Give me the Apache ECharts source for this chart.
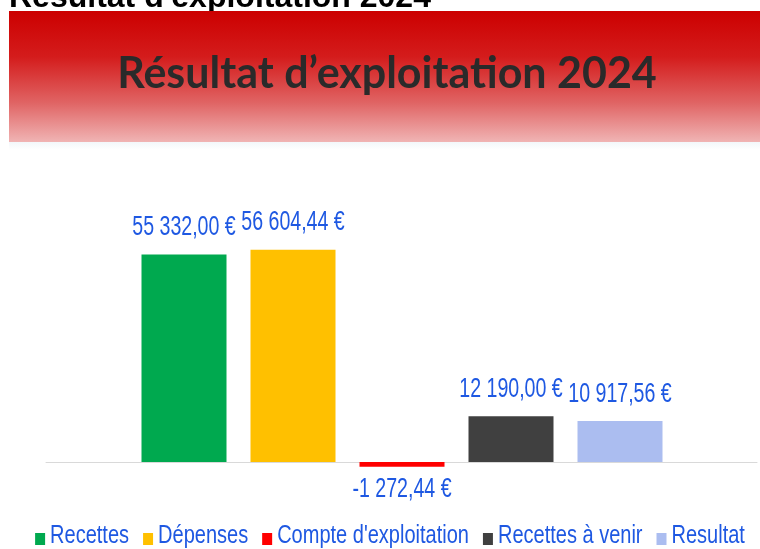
<!DOCTYPE html>
<html>
<head>
<meta charset="utf-8">
<script src="https://cdn.jsdelivr.net/npm/echarts@6/dist/echarts.min.js"></script>
<style>
html,body{margin:0;padding:0;background:#fff;}
#chart{width:760px;height:549px;}
</style>
</head>
<body>
<div id="chart"></div>
<script>
var pageTitle = "Résultat d'exploitation 2024";
var bannerTitle = "Résultat d’exploitation 2024";
var seriesNames = ['Recettes', 'Dépenses', "Compte d'exploitation", 'Recettes à venir', 'Resultat'];
var seriesValues = [55332.00, 56604.44, -1272.44, 12190.00, 10917.56];
var seriesColors = ['#00a94f', '#ffc000', '#ff0000', '#404040', '#abbdf0'];

function fmt(v) {
  var neg = v < 0;
  var s = Math.abs(v).toFixed(2).split('.');
  var ip = s[0].replace(/\B(?=(\d{3})+(?!\d))/g, ' ');
  return (neg ? '-' : '') + ip + ',' + s[1] + ' €';
}

var blue = '#1e58e2';
var labelFont = '28px "Liberation Sans", Arial, sans-serif';
var legendFont = '26.5px "Liberation Sans", Arial, sans-serif';
var squeeze = 0.7;
var legendSqueeze = 0.755;

// bar series: one per legend entry, each in its own category slot
var series = seriesNames.map(function (name, i) {
  return {
    name: name,
    type: 'bar',
    xAxisIndex: 0,
    yAxisIndex: 0,
    data: seriesNames.map(function (n, j) { return j === i ? seriesValues[i] : '-'; }),
    barWidth: 85,
    barGap: '-100%',
    itemStyle: { color: seriesColors[i] }
  };
});

// value labels (narrow text) anchored to bar ends through the axes
series.push({
  type: 'custom',
  xAxisIndex: 0,
  yAxisIndex: 0,
  silent: true,
  z: 5,
  data: seriesValues.map(function (v, i) { return [i, v]; }),
  renderItem: function (params, api) {
    var v = api.value(1);
    var pt = api.coord([api.value(0), v]);
    return {
      type: 'text',
      x: pt[0],
      y: v < 0 ? pt[1] + 23 : pt[1] - 27,
      scaleX: squeeze,
      style: {
        text: fmt(v),
        font: labelFont,
        fill: blue,
        textAlign: 'center',
        textVerticalAlign: 'middle'
      }
    };
  }
});

// legend drawn as narrow text
var ctx = document.createElement('canvas').getContext('2d');
ctx.font = legendFont;
var iconW = 10, iconH = 12, iconGap = 5, itemGap = 14;
var widths = seriesNames.map(function (n) { return ctx.measureText(n).width * legendSqueeze; });
var total = 0;
widths.forEach(function (w, i) { total += iconW + iconGap + w + (i < widths.length - 1 ? itemGap : 0); });
var lx = 390 - total / 2;
var legendEls = [];
seriesNames.forEach(function (n, i) {
  legendEls.push({ type: 'rect', shape: { x: lx, y: 533, width: iconW, height: iconH }, style: { fill: seriesColors[i] } });
  lx += iconW + iconGap;
  legendEls.push({ type: 'text', x: lx, y: 536, scaleX: legendSqueeze,
    style: { text: n, font: legendFont, fill: blue, textAlign: 'left', textVerticalAlign: 'middle' } });
  lx += widths[i] + itemGap;
});

var chart = echarts.init(document.getElementById('chart'), null, { renderer: 'canvas' });
chart.setOption({
  animation: false,
  backgroundColor: '#ffffff',
  graphic: [
    {
      type: 'text', z: 1,
      style: { text: pageTitle, x: 9, y: -2, textAlign: 'left', textVerticalAlign: 'middle',
        font: 'bold 32px "Liberation Sans", Arial, sans-serif', fill: '#000' }
    },
    {
      type: 'rect', z: 2,
      shape: { x: 9, y: 11, width: 751, height: 131 },
      style: {
        fill: new echarts.graphic.LinearGradient(0, 0, 0, 1, [
          { offset: 0, color: '#cc0000' },
          { offset: 0.35, color: '#d41c1c' },
          { offset: 0.7, color: '#e06464' },
          { offset: 1, color: '#f0b4b4' }
        ])
      }
    },
    {
      type: 'rect', z: 2,
      shape: { x: 9, y: 142, width: 751, height: 8 },
      style: {
        fill: new echarts.graphic.LinearGradient(0, 0, 0, 1, [
          { offset: 0, color: '#f3f7fa' },
          { offset: 1, color: '#ffffff' }
        ])
      }
    },
    {
      type: 'text', z: 3,
      style: { text: bannerTitle, x: 387, y: 74, textAlign: 'center', textVerticalAlign: 'middle',
        font: 'bold 43px Lato, "Noto Sans", sans-serif', fill: '#2a2a2a' }
    },
    { type: 'group', z: 3, children: legendEls }
  ],
  legend: { show: false, data: seriesNames },
  grid: [
    { left: 129.5, right: 85.5, top: 199.5, height: 300 },
    { left: 46, right: 3, top: 199.5, height: 300 }
  ],
  xAxis: [
    {
      gridIndex: 0, type: 'category', data: seriesNames,
      axisLine: { show: false }, axisTick: { show: false }, axisLabel: { show: false }
    },
    {
      gridIndex: 1, type: 'category', data: [''],
      axisLine: { show: true, onZero: true, lineStyle: { color: '#d9d9d9', width: 1 } },
      axisTick: { show: false }, axisLabel: { show: false }
    }
  ],
  yAxis: [
    { gridIndex: 0, type: 'value', min: -10000, max: 70000, show: false, splitLine: { show: false } },
    { gridIndex: 1, type: 'value', min: -10000, max: 70000, show: false, splitLine: { show: false } }
  ],
  series: series
});
</script>
</body>
</html>
